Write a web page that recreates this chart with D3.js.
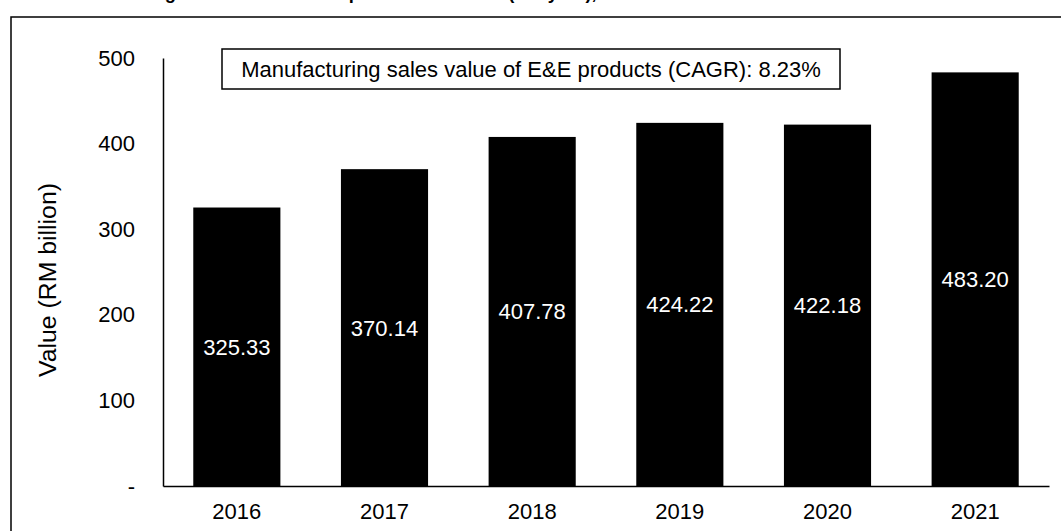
<!DOCTYPE html>
<html>
<head>
<meta charset="utf-8">
<script src="https://cdn.jsdelivr.net/npm/d3@7"></script>
<style>
  html, body { margin: 0; padding: 0; background: #fff; }
  svg { display: block; font-family: "Liberation Sans", Arial, sans-serif; }
</style>
</head>
<body>
<svg id="chart" width="1061" height="531"></svg>
<script>
const years = ["2016", "2017", "2018", "2019", "2020", "2021"];
const values = [325.33, 370.14, 407.78, 424.22, 422.18, 483.20];
const yTicks = [0, 100, 200, 300, 400, 500];
const yTickLabels = ["-", "100", "200", "300", "400", "500"];
const yTitle = "Value (RM billion)";
const annotation = "Manufacturing sales value of E&E products (CAGR): 8.23%";
const topTitle = "Manufacturing sales value of E&E products 2016–21 (RM/year), E&E Sector";

const svg = d3.select("#chart");

// cropped title (only descenders visible, as in the reference)
svg.append("text")
  .attr("x", 50).attr("y", -1)
  .attr("font-size", 18.3).attr("font-weight", "bold")
  .attr("fill", "#000")
  .text(topTitle);

// outer frame
svg.append("rect")
  .attr("x", 11).attr("y", 17)
  .attr("width", 1060).attr("height", 530)
  .attr("fill", "none").attr("stroke", "#000").attr("stroke-width", 1.5);

const x = d3.scaleBand().domain(years).range([163, 1049]).paddingInner(0.41).paddingOuter(0.205);
const y = d3.scaleLinear().domain([0, 500]).range([486, 58]);

// bars
svg.append("g").selectAll("rect").data(values).join("rect")
  .attr("x", (d, i) => x(years[i]))
  .attr("y", d => y(d))
  .attr("width", x.bandwidth())
  .attr("height", d => y(0) - y(d))
  .attr("fill", "#000");

// bar labels
svg.append("g").selectAll("text").data(values).join("text")
  .attr("x", (d, i) => x(years[i]) + x.bandwidth() / 2)
  .attr("y", d => (y(d) + y(0)) / 2)
  .attr("dy", "0.36em")
  .attr("text-anchor", "middle")
  .attr("font-size", 22)
  .attr("fill", "#fff")
  .text(d => d.toFixed(2));

// y axis
const yAxis = d3.axisLeft(y).tickValues(yTicks).tickSize(0).tickPadding(28)
  .tickFormat((d, i) => yTickLabels[i]);
const gy = svg.append("g").attr("transform", "translate(163,0)").call(yAxis);
gy.select(".domain").attr("stroke", "#000").attr("stroke-width", 1.5);
gy.selectAll("text").attr("font-size", 22).attr("fill", "#000")
  .attr("font-family", "Liberation Sans, Arial, sans-serif");

// x axis
const xAxis = d3.axisBottom(x).tickSize(0).tickPadding(17);
const gx = svg.append("g").attr("transform", "translate(0,486)").call(xAxis);
gx.select(".domain").attr("stroke", "#000").attr("stroke-width", 1.5);
gx.selectAll("text").attr("font-size", 22).attr("fill", "#000")
  .attr("font-family", "Liberation Sans, Arial, sans-serif");

// y title
svg.append("text")
  .attr("transform", "translate(56,280) rotate(-90)")
  .attr("text-anchor", "middle")
  .attr("font-size", 23)
  .attr("textLength", 194)
  .attr("lengthAdjust", "spacingAndGlyphs")
  .attr("fill", "#000")
  .text(yTitle);

// annotation box
svg.append("rect")
  .attr("x", 222).attr("y", 49).attr("width", 618).attr("height", 40)
  .attr("fill", "#fff").attr("stroke", "#000").attr("stroke-width", 1.5);
svg.append("text")
  .attr("x", 531).attr("y", 69).attr("dy", "0.36em")
  .attr("text-anchor", "middle")
  .attr("font-size", 22).attr("fill", "#000")
  .text(annotation);
</script>
</body>
</html>
